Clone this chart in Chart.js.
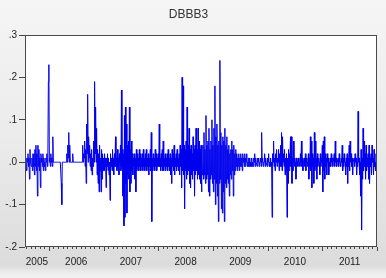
<!DOCTYPE html>
<html>
<head>
<meta charset="utf-8">
<script src="https://cdn.jsdelivr.net/npm/chart.js@4"></script>
<style>
  html, body { margin: 0; padding: 0; }
  body {
    width: 386px; height: 278px; overflow: hidden;
    background: linear-gradient(to bottom, #f5f5f5 0px, #ebebeb 140px, #dcdcdc 266px, #eeeeee 273px, #f0f0f0 278px);
  }
  canvas { display: block; }
</style>
</head>
<body>
<canvas id="dbbb3" width="386" height="278"></canvas>
<script>
const chartTitle = "DBBB3";
const yearLabels = [2005, 2006, 2007, 2008, 2009, 2010, 2011];
const yTicks = [-0.2, -0.1, 0, 0.1, 0.2, 0.3];
const perYear = 110;

// daily returns, in percent
const r2005 = [0,-1, 1,-2, 1,0, 2,-1, 1,-4, 3,0, 0,-1, 1,-2, 2,-1, 2,-3, 3,-1, 4,-2,
  2,-8, 4,-1, 3,-2, 1,-6, 2,0, 1,-1, 2,-2, 1,-1, 0,-2, 1,0, 2,-1, 1,19];
const r2006 = [23,0, 1,-1, 2,0, 1,-1, 6,0, 0,0, 0,0, 0,0, 0,0, 0,0, 0,0, 0,0, 0,-5, -10,0,
  0,0, 0,0, 0,0, 0,0, 2,0, 4,1, 7,0, 4,0, 0,0, 0,0, 2,0, 0,0, 0,0, 0,0, 0,0, 0,0, 0,0,
  0,0, 0,0, 0,0, 4,0, 2,1, 5,-1, 3,-5, 9,2, 16,0, 6,1, 4,-1, 2,-2, 3,-3, 1,-1, 5,0,
  19,2, 13,0, 8,-3, 3,-5, 2,-7, 4,-2, 1,-7, 3,-4, 2,-2];
const r2007 = [1,-2, 2,-1, 1,-6, 1,-1, 2,-2, 1,-3, 0,-9, 2,-1, 1,-2, 3,0, 1,-3, 2,-1,
  6,-1, 1,-2, 3,-1, 1,-3, 2,0, 4,-2, 17,-1, 3,-8, 2,-15, 11,-13, 13,-5, 9,-12, 4,-3,
  5,-4, 13,-7, 3,-5, 5,-2, 2,-3, 1,-1, 2,-4, 1,-7, 3,-2, 2,-1, 1,-2, 3,-1, 2,-2, 1,-1,
  2,-2, 3,-1, 1,-2, 2,-1, 3,-2, 1,-1, 2,-3, 1,-1, 3,-2, 7,-14, 1,-2, 2,-1, 1,-2, 3,-1,
  2,-2, 1,-1];
const r2008 = [2,-1, 9,-1, 1,-2, 2,-1, 3,-2, 5,-2, 1,-1, 2,-2, 1,-1, 2,-2, 3,-1, 1,-2,
  2,-3, 1,-5, 3,-1, 2,-2, 4,-3, 1,-1, 2,-2, 3,-1, 1,-2, 2,-3, 4,-1, 3,-6, 20,-2, 18,-3,
  4,-11, 3,-2, 5,-4, 13,-3, 4,-2, 8,-5, 3,-6, 4,-3, 2,-4, 6,-2, 3,-8, 4,-3, 8,-2, 3,-4,
  8,-3, 5,-4, 3,-5, 4,-7, 2,-3, 4,-4, 7,-3, 3,-5, 11,-4, 4,-3, 5,-7, 8,-8, 3,-4, 5,-3,
  10,-5];
const r2009 = [4,-7, 8,-4, 18,-10, 6,-5, 9,-8, 4,-14, 5,-5, 24,-4, 7,-11, 4,-12, 6,-7,
  5,-14, 8,-5, 4,-6, 6,-4, 3,-5, 4,-8, 2,-3, 3,-4, 5,-2, 3,-8, 4,-3, 2,-2, 3,-1, 2,-2,
  1,-1, 2,-2, 1,-1, 2,-1, 1,-2, 2,0, 1,-1, 2,-1, 1,0, 2,-1, 0,-1, 1,-1, 1,-1, 0,-1,
  1,-1, 0,-1, 1,0, 2,-1, 1,0, 0,-1, 1,0, 1,-1, 0,0, 1,-1, 7,0, 1,-1, 0,0, 2,-1,
  1,0, 0,-1];
const r2010 = [1,0, 2,-1, 0,-1, 1,-1, 0,-13, 2,0, 5,-1, 1,-2, 2,0, 3,-1, 1,0, 3,-2,
  2,-1, 4,-1, 7,-2, 6,0, 2,-1, 3,-3, 1,-2, 2,-13, 1,-5, 3,-2, 2,-1, 6,-1, 6,-5, 1,-2,
  5,0, 1,-1, 0,-4, 1,0, 0,-1, 1,0, 0,-1, 2,0, 5,-1, 1,-2, 0,0, 1,-1, 2,-2, 1,0,
  0,-1, 2,-4, 1,-1, 6,-2, 5,-6, 2,-1, 1,-5, 7,-2, 5,-1, 1,-4, 2,-1, 1,0, 0,-3, 2,-1,
  1,0];
const r2011 = [4,-7, 5,-2, 6,-4, 2,-1, 1,-3, 2,0, 1,-3, 0,-1, 1,-1, 2,0, 1,-1, 0,0,
  2,-1, 5,0, 1,-1, 0,0, 1,-1, 2,0, 0,-1, 1,0, 4,-2, 1,-1, 2,0, 0,-3, 1,-1, 2,-5,
  1,-1, 4,-2, 5,0, 2,-1, 1,-3, 0,0, 1,-1, 2,0, 1,-3, 0,-1, 12,0, 1,-3, 0,-8, 3,-16,
  1,-4, 8,-2, 5,-1, 2,-4, 4,-2, 1,-1, 2,-4, 4,-5, 1,-1, 2,-3, 4,0, 1,-3, 3,-1, 0,-2,
  2,0];

const yearSeries = [r2005, r2006, r2007, r2008, r2009, r2010, r2011];
const points = [];
yearSeries.forEach((vals, k) => {
  const n = vals.length;
  vals.forEach((v, i) => {
    points.push({ x: yearLabels[k] + 1 - (n - i) / perYear, y: v / 100 });
  });
});
const xMin = points[0].x;
const xMax = yearLabels[yearLabels.length - 1] + 1;

const framePlugin = {
  id: "frame",
  beforeDraw(chart) {
    const { ctx, chartArea: a } = chart;
    ctx.save();
    ctx.fillStyle = "#ffffff";
    ctx.fillRect(a.left, a.top, a.right - a.left, a.bottom - a.top);
    ctx.restore();
  },
  afterDraw(chart) {
    const { ctx, chartArea: a, scales } = chart;
    ctx.save();
    ctx.strokeStyle = "#4a4a4a";
    ctx.lineWidth = 1;
    ctx.strokeRect(a.left + 0.5, a.top + 0.5, a.right - a.left - 1, a.bottom - a.top - 1);
    // month ticks under the time axis
    ctx.beginPath();
    for (let m = Math.ceil(xMin * 12); m <= Math.floor(xMax * 12); m++) {
      const px = Math.round(scales.x.getPixelForValue(m / 12)) + 0.5;
      const len = m % 12 === 0 ? 4 : 2;
      ctx.moveTo(px, a.bottom);
      ctx.lineTo(px, a.bottom + len);
    }
    ctx.stroke();
    ctx.restore();
  }
};

new Chart(document.getElementById("dbbb3"), {
  type: "line",
  data: {
    datasets: [{
      label: chartTitle,
      data: points,
      borderColor: "#0000ee",
      borderWidth: 1,
      pointRadius: 0,
      tension: 0,
      fill: false
    }]
  },
  options: {
    responsive: false,
    animation: false,
    events: [],
    layout: { padding: { left: 0, right: 9, top: 0, bottom: 0 } },
    plugins: {
      legend: { display: false },
      tooltip: { enabled: false },
      title: {
        display: true,
        text: chartTitle,
        color: "#333",
        font: { family: "Liberation Sans, Arial", size: 12, weight: "normal" },
        padding: { top: 7, bottom: 13.6 }
      }
    },
    scales: {
      x: {
        type: "linear",
        min: xMin,
        max: xMax,
        grid: { display: false, drawTicks: false },
        border: { display: false },
        afterBuildTicks(scale) {
          scale.ticks = yearLabels.map(y => ({
            value: (Math.max(y, xMin) + Math.min(y + 1, xMax)) / 2
          }));
        },
        afterFit(scale) { scale.height = 31; },
        ticks: {
          autoSkip: false,
          maxRotation: 0,
          padding: 9,
          color: "#222",
          font: { family: "Liberation Sans, Arial", size: 10 },
          callback: (v, i) => String(yearLabels[i])
        }
      },
      y: {
        min: yTicks[0],
        max: yTicks[yTicks.length - 1],
        afterBuildTicks(scale) {
          scale.ticks = yTicks.map(v => ({ value: v }));
        },
        afterFit(scale) { scale.width = 25; },
        grid: {
          drawOnChartArea: false,
          drawTicks: true,
          tickLength: 6,
          tickColor: "#444"
        },
        border: { display: false },
        ticks: {
          padding: 2,
          color: "#222",
          font: { family: "Liberation Sans, Arial", size: 10 },
          callback: v => v.toFixed(1).replace("0.", ".")
        }
      }
    }
  },
  plugins: [framePlugin]
});
</script>
</body>
</html>
